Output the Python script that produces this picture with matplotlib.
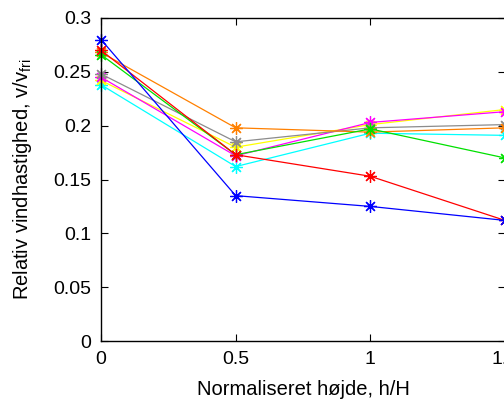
#!/usr/bin/env python3
"""Relative wind speed vs normalised height, several series (MATLAB-style plot)."""

import matplotlib
matplotlib.use("Agg")
import matplotlib.pyplot as plt

plt.rcParams["font.family"] = ["Liberation Sans", "DejaVu Sans"]
plt.rcParams["mathtext.default"] = "regular"

# ── data ─────────────────────────────────────────────────────────────
heights = [0, 0.5, 1, 1.5]

series_blue = [0.280, 0.135, 0.125, 0.112]
series_red = [0.270, 0.173, 0.153, 0.112]
series_green = [0.266, 0.173, 0.197, 0.170]
series_orange = [0.268, 0.198, 0.194, 0.198]
series_gray = [0.248, 0.185, 0.198, 0.201]
series_magenta = [0.245, 0.172, 0.203, 0.213]
series_yellow = [0.242, 0.180, 0.201, 0.215]
series_cyan = [0.238, 0.162, 0.193, 0.191]

series = [
    (series_cyan, "#00ffff"),
    (series_yellow, "#ffff00"),
    (series_magenta, "#ff00ff"),
    (series_gray, "#8c8c8c"),
    (series_orange, "#ff8000"),
    (series_green, "#00e000"),
    (series_red, "#ff0000"),
    (series_blue, "#0000ff"),
]

# ── plot ─────────────────────────────────────────────────────────────
fig = plt.figure(figsize=(5.04, 4.01), dpi=100)
ax = fig.add_axes([101 / 504, 60 / 401, 404 / 504, 323 / 401])

for vals, col in series:
    ax.plot(heights, vals, color=col, lw=0.9, marker=(8, 2, 0),
            markersize=9, markeredgewidth=0.9, clip_on=False)

ax.set_xlim(0, 1.5)
ax.set_ylim(0, 0.3)
ax.set_xticks([0, 0.5, 1, 1.5])
ax.set_xticklabels(["0", "0.5", "1", "1.5"])
ax.set_yticks([0, 0.05, 0.1, 0.15, 0.2, 0.25, 0.3])
ax.set_yticklabels(["0", "0.05", "0.1", "0.15", "0.2", "0.25", "0.3"])
ax.tick_params(direction="in", top=True, right=True, length=5,
               labelsize=14, pad=7)

for sp in ax.spines.values():
    sp.set_linewidth(1.0)

ax.set_xlabel("Normaliseret højde, h/H", fontsize=14.5, labelpad=9)
ax.set_ylabel("Relativ vindhastighed, v/v$_{fri}$", fontsize=14.5, labelpad=14)

fig.savefig("out.png", dpi=100, facecolor="white")
plt.close()
